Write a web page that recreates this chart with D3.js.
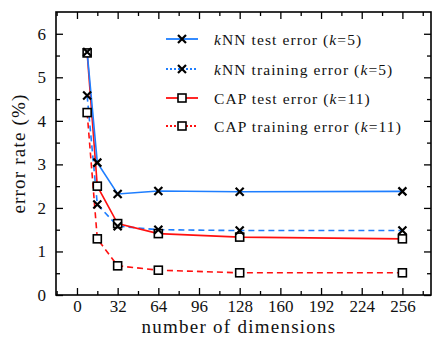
<!DOCTYPE html>
<html><head><meta charset="utf-8">
<script src="https://cdn.jsdelivr.net/npm/d3@7"></script>
<style>body{margin:0;background:#fff}svg{display:block}text{font-family:"Liberation Serif","Times New Roman",serif}</style>
</head><body>
<script>
const dims = [8, 16, 32, 64, 128, 256];
const knnTest = [5.58, 3.04, 2.32, 2.39, 2.37, 2.38];
const knnTrain = [4.58, 2.08, 1.58, 1.50, 1.48, 1.48];
const capTest = [5.56, 2.50, 1.64, 1.41, 1.33, 1.29];
const capTrain = [4.19, 1.29, 0.67, 0.57, 0.51, 0.51];
const xTicks = [0, 32, 64, 96, 128, 160, 192, 224, 256];
const yTicks = [0, 1, 2, 3, 4, 5, 6];
const series = [
  {name: "kNN test error (k=5)", parts: [["k", true], ["NN test error (", false], ["k", true], ["=5)", false]], values: knnTest, color: "#1e7eff", dash: null, legDash: null, marker: "x"},
  {name: "kNN training error (k=5)", parts: [["k", true], ["NN training error (", false], ["k", true], ["=5)", false]], values: knnTrain, color: "#1e7eff", dash: "6,4", legDash: "2,2", marker: "x"},
  {name: "CAP test error (k=11)", parts: [["CAP test error (", false], ["k", true], ["=11)", false]], values: capTest, color: "#ff1010", dash: null, legDash: null, marker: "s"},
  {name: "CAP training error (k=11)", parts: [["CAP training error (", false], ["k", true], ["=11)", false]], values: capTrain, color: "#ff1010", dash: "6,4", legDash: "2,2", marker: "s"}
];

const W = 433, H = 339;
const m = {left: 56, right: 2, top: 12, bottom: 44};
const svg = d3.select("body").append("svg").attr("width", W).attr("height", H);
const x = d3.scaleLinear().domain([-16.5, 278.5]).range([m.left, W - m.right]);
const y = d3.scaleLinear().domain([0, 6.5]).range([H - m.bottom, m.top]);

const g = svg.append("g");
g.append("rect").attr("x", x.range()[0]).attr("y", y.range()[1])
  .attr("width", x.range()[1] - x.range()[0]).attr("height", y.range()[0] - y.range()[1])
  .attr("fill", "none").attr("stroke", "#000").attr("stroke-width", 1.6);

const xMinor = d3.range(-16, 279, 16).filter(v => v % 32 !== 0 && v > -16.5);
const yMinor = d3.range(0.5, 6.5, 1);
function axisStyle(sel) { sel.select(".domain").remove(); sel.selectAll("line").attr("stroke", "#000").attr("stroke-width", 1.3); }
g.append("g").attr("transform", `translate(0,${y(0)})`)
  .call(d3.axisBottom(x).tickValues(xTicks).tickSize(-7).tickPadding(5).tickFormat(d3.format("d")))
  .call(axisStyle).call(s => s.selectAll("text").attr("font-size", 17).attr("fill", "#111"));
g.append("g").attr("transform", `translate(0,${y(0)})`)
  .call(d3.axisBottom(x).tickValues(xMinor).tickSize(-4).tickFormat(""))
  .call(axisStyle);
g.append("g").attr("transform", `translate(0,${y.range()[1]})`)
  .call(d3.axisTop(x).tickValues(xTicks).tickSize(-7).tickFormat(""))
  .call(axisStyle);
g.append("g").attr("transform", `translate(0,${y.range()[1]})`)
  .call(d3.axisTop(x).tickValues(xMinor).tickSize(-4).tickFormat(""))
  .call(axisStyle);
g.append("g").attr("transform", `translate(${x.range()[0]},0)`)
  .call(d3.axisLeft(y).tickValues(yTicks).tickSize(-7).tickPadding(10).tickFormat(d3.format("d")))
  .call(axisStyle).call(s => s.selectAll("text").attr("font-size", 17).attr("fill", "#111"));
g.append("g").attr("transform", `translate(${x.range()[0]},0)`)
  .call(d3.axisLeft(y).tickValues(yMinor).tickSize(-4).tickFormat(""))
  .call(axisStyle);
g.append("g").attr("transform", `translate(${x.range()[1]},0)`)
  .call(d3.axisRight(y).tickValues(yTicks).tickSize(-7).tickFormat(""))
  .call(axisStyle);
g.append("g").attr("transform", `translate(${x.range()[1]},0)`)
  .call(d3.axisRight(y).tickValues(yMinor).tickSize(-4).tickFormat(""))
  .call(axisStyle);

svg.append("text").attr("x", 239).attr("y", 333)
  .attr("text-anchor", "middle").attr("font-size", 19).attr("letter-spacing", 1.25).attr("fill", "#111")
  .text("number of dimensions");
svg.append("text").attr("transform", `translate(25,${(y.range()[0] + y.range()[1]) / 2}) rotate(-90)`)
  .attr("text-anchor", "middle").attr("font-size", 19).attr("letter-spacing", 1.2).attr("fill", "#111")
  .text("error rate (%)");

function marker(sel, type, cx, cy) {
  const r = 4;
  if (type === "x") {
    sel.append("path").attr("d", `M${cx - r},${cy - r}L${cx + r},${cy + r}M${cx - r},${cy + r}L${cx + r},${cy - r}`)
      .attr("stroke", "#000").attr("stroke-width", 2.2).attr("fill", "none");
  } else {
    sel.append("rect").attr("x", cx - r).attr("y", cy - r).attr("width", 2 * r).attr("height", 2 * r)
      .attr("fill", "#fff").attr("stroke", "#000").attr("stroke-width", 1.6);
  }
}

const line = d3.line().x((d, i) => x(dims[i])).y(d => y(d));
[3, 1, 2, 0].forEach(k => {
  const s = series[k];
  g.append("path").datum(s.values).attr("d", line).attr("fill", "none")
    .attr("stroke", s.color).attr("stroke-width", 1.6).attr("stroke-dasharray", s.dash);
});
[3, 2, 1, 0].forEach(k => {
  const s = series[k];
  const mg = g.append("g");
  s.values.forEach((v, i) => marker(mg, s.marker, x(dims[i]), y(v)));
});

const legY = [39, 69, 98, 126];
series.forEach((s, i) => {
  const lg = svg.append("g");
  lg.append("line").attr("x1", 166).attr("x2", 198).attr("y1", legY[i]).attr("y2", legY[i])
    .attr("stroke", s.color).attr("stroke-width", 1.8).attr("stroke-dasharray", s.legDash);
  marker(lg, s.marker, 182, legY[i]);
  const t = lg.append("text").attr("x", 214).attr("y", legY[i] + 6).attr("font-size", 15.5)
    .attr("letter-spacing", 1.1).attr("fill", "#111");
  s.parts.forEach(p => t.append("tspan").attr("font-style", p[1] ? "italic" : "normal").text(p[0]));
});
</script>
</body></html>
